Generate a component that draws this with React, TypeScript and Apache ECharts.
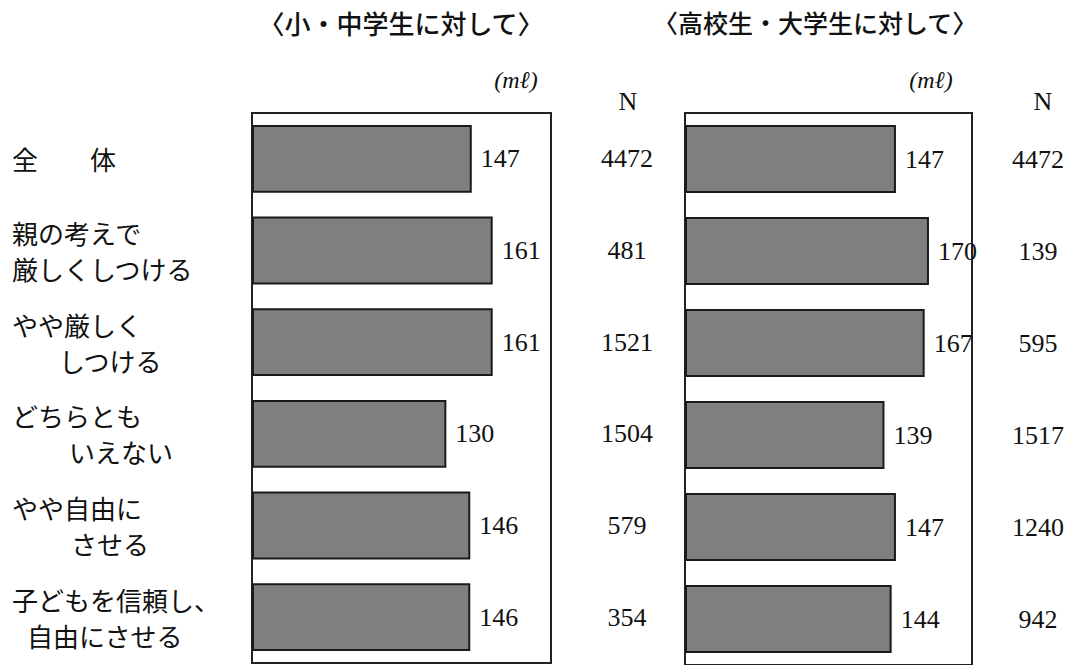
import React, { useEffect, useRef } from "react";
import * as echarts from "echarts";

const categoryLines: string[][] = [
  ["全　　体"],
  ["親の考えで", "厳しくしつける"],
  ["やや厳しく", "しつける"],
  ["どちらとも", "いえない"],
  ["やや自由に", "させる"],
  ["子どもを信頼し、", "自由にさせる"],
];
const categories = categoryLines.map((l) => l.join(""));
const juniorValues = [147, 161, 161, 130, 146, 146];
const juniorN = [4472, 481, 1521, 1504, 579, 354];
const seniorValues = [147, 170, 167, 139, 147, 144];
const seniorN = [4472, 139, 595, 1517, 1240, 942];
const panelTitles = ["〈小・中学生に対して〉", "〈高校生・大学生に対して〉"];
const unitLabel = "(mℓ)";
const nHeader = "N";

const secondLineIndent = [0, 0, 47, 57, 59, 15];

const SERIF = "'Liberation Serif', 'DejaVu Serif', serif";
const JP = "'Noto Sans CJK JP', 'Noto Sans', sans-serif";
const NUM_SIZE = 26;

export default function App() {
  const ref = useRef<HTMLDivElement>(null);
  useEffect(() => {
    if (!ref.current) return;
    const chart = echarts.init(ref.current, undefined, { renderer: "svg" });

    const rich: Record<string, any> = {
      a: { fontFamily: JP, fontSize: 26, lineHeight: 36, color: "#111" },
    };
    secondLineIndent.forEach((ind, i) => {
      rich["b" + i] = {
        fontFamily: JP,
        fontSize: 26,
        lineHeight: 36,
        color: "#111",
        padding: [0, 0, 0, ind],
      };
    });

    const grids = [
      { left: 252, right: 1073 - 551, top: 113, bottom: 2 },
      { left: 685, right: 1073 - 972, top: 113, bottom: 0 },
    ].map((g) => ({
      ...g,
      show: true,
      borderColor: "#222",
      borderWidth: 2,
      backgroundColor: "transparent",
    }));

    const barSeries = (idx: number, data: number[]) => ({
      type: "bar",
      xAxisIndex: idx,
      yAxisIndex: idx * 2,
      data,
      barCategoryGap: "26%",
      itemStyle: { color: "#7f7f7f", borderColor: "#1a1a1a", borderWidth: 2 },
      label: {
        show: true,
        position: "right",
        distance: 9,
        fontFamily: SERIF,
        fontSize: NUM_SIZE,
        color: "#111",
      },
    });

    const numAxisLabel = (margin: number, arr: number[]) => ({
      margin,
      align: "center",
      fontFamily: SERIF,
      fontSize: NUM_SIZE,
      color: "#111",
      formatter: (_v: string, i: number) => String(arr[i]),
    });

    const txt = (x: number, y: number, text: string, extra: any) => ({
      type: "text",
      x,
      y,
      style: {
        text,
        fill: "#111",
        textAlign: "center",
        textVerticalAlign: "middle",
        ...extra,
      },
    });

    chart.setOption({
      animation: false,
      backgroundColor: "#fff",
      grid: grids,
      xAxis: [0, 1].map((i) => ({
        type: "value",
        gridIndex: i,
        min: 0,
        max: 200,
        show: false,
      })),
      yAxis: [
        {
          type: "category",
          gridIndex: 0,
          data: categories,
          inverse: true,
          axisLine: { show: false },
          axisTick: { show: false },
          axisLabel: {
            margin: 252 - 12,
            align: "left",
            formatter: (_v: string, i: number) =>
              categoryLines[i]
                .map((l, k) => `{${k === 0 ? "a" : "b" + i}|${l}}`)
                .join("\n"),
            rich,
          },
        },
        {
          type: "category",
          gridIndex: 0,
          position: "right",
          data: categories,
          inverse: true,
          axisLine: { show: false },
          axisTick: { show: false },
          axisLabel: numAxisLabel(76, juniorN),
        },
        {
          type: "category",
          gridIndex: 1,
          data: categories,
          inverse: true,
          axisLine: { show: false },
          axisTick: { show: false },
          axisLabel: { show: false },
        },
        {
          type: "category",
          gridIndex: 1,
          position: "right",
          data: categories,
          inverse: true,
          axisLine: { show: false },
          axisTick: { show: false },
          axisLabel: numAxisLabel(66, seniorN),
        },
      ],
      series: [
        barSeries(0, juniorValues),
        { ...barSeries(1, seniorValues), yAxisIndex: 2 },
      ],
      graphic: [
        txt(401, 22, panelTitles[0], { fontFamily: JP, fontSize: 26, fontWeight: 500 }),
        txt(815, 22, panelTitles[1], { fontFamily: JP, fontSize: 25, fontWeight: 500 }),
        txt(516, 80, unitLabel, { fontFamily: SERIF, fontStyle: "italic", fontSize: 24 }),
        txt(931, 80, unitLabel, { fontFamily: SERIF, fontStyle: "italic", fontSize: 24 }),
        txt(628, 101, nHeader, { fontFamily: SERIF, fontSize: NUM_SIZE }),
        txt(1043, 101, nHeader, { fontFamily: SERIF, fontSize: NUM_SIZE }),
      ],
    });
    return () => chart.dispose();
  }, []);
  return (
    <div
      ref={ref}
      style={{ position: "fixed", left: 0, top: 0, width: 1073, height: 665 }}
    />
  );
}
